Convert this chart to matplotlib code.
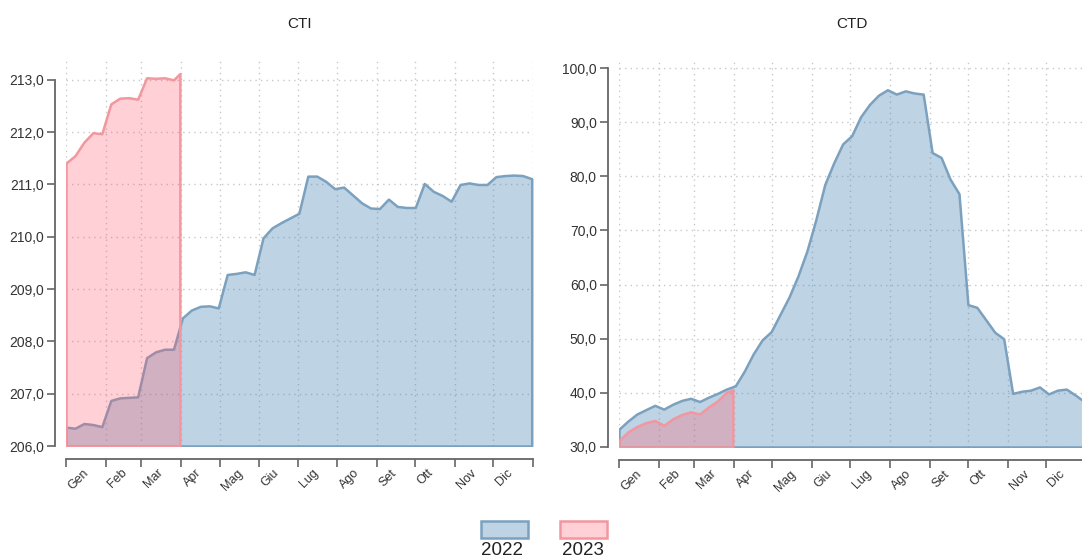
import numpy as np
import pandas as pd
import matplotlib
matplotlib.use('Agg')
import matplotlib.pyplot as plt
from matplotlib.patches import Rectangle
from matplotlib.ticker import FuncFormatter, FixedLocator, FixedFormatter

plt.rcParams['font.family'] = ['Liberation Sans', 'DejaVu Sans']

# ---------------- data ----------------
months = ['Gen', 'Feb', 'Mar', 'Apr', 'Mag', 'Giu', 'Lug', 'Ago', 'Set', 'Ott', 'Nov', 'Dic']
series_labels = ['2022', '2023']
panel_titles = ['CTI', 'CTD']

dates_2022 = pd.date_range('2022-01-01', '2022-12-31', freq='7D')
dates_2023 = pd.DatetimeIndex(list(pd.date_range('2023-01-01', '2023-03-26', freq='7D'))
                              + [pd.Timestamp('2023-03-31')])

cti_2022 = [206.36, 206.34, 206.43, 206.41, 206.37, 206.87, 206.92, 206.93, 206.94, 207.69,
            207.80, 207.85, 207.85, 208.45, 208.60, 208.67, 208.68, 208.64, 209.28, 209.30,
            209.33, 209.28, 209.98, 210.17, 210.27, 210.36, 210.45, 211.16, 211.16, 211.06,
            210.92, 210.95, 210.80, 210.65, 210.55, 210.54, 210.72, 210.58, 210.56, 210.56,
            211.02, 210.87, 210.79, 210.68, 211.00, 211.03, 211.00, 211.00, 211.15, 211.17,
            211.18, 211.17, 211.11]
cti_2023 = [211.41, 211.55, 211.81, 211.99, 211.97, 212.54, 212.65, 212.66, 212.63, 213.04,
            213.03, 213.04, 213.00, 213.12]

ctd_2022 = [33.3, 34.8, 36.1, 36.9, 37.7, 37.0, 37.9, 38.6, 39.0, 38.4,
            39.2, 39.9, 40.7, 41.3, 44.0, 47.2, 49.8, 51.3, 54.5, 57.7,
            61.6, 66.2, 72.0, 78.5, 82.5, 86.0, 87.5, 91.0, 93.3, 95.0,
            96.0, 95.2, 95.8, 95.4, 95.2, 84.4, 83.5, 79.5, 76.8, 56.3,
            55.8, 53.5, 51.2, 50.0, 39.9, 40.3, 40.5, 41.1, 39.8, 40.5,
            40.7, 39.6, 38.4]
ctd_2023 = [31.2, 32.8, 33.8, 34.5, 34.9, 34.0, 35.2, 36.0, 36.5, 36.1,
            37.4, 38.5, 40.1, 40.6]

cti_ticks = [206, 207, 208, 209, 210, 211, 212, 213]
ctd_ticks = [30, 40, 50, 60, 70, 80, 90, 100]

# ---------------- styling ----------------
W, H = 1082, 558
fig = plt.figure(figsize=(W / 100, H / 100), dpi=100)

blue_face = (70 / 255, 130 / 255, 180 / 255, 0.35)
blue_edge = '#7ba1be'
pink_face = (1.0, 88 / 255, 105 / 255, 0.28)
pink_edge = '#f2979f'

x22 = (dates_2022 - pd.Timestamp('2022-01-01')).days.values
x23 = (dates_2023 - pd.Timestamp('2023-01-01')).days.values
month_starts = pd.date_range('2022-01-01', periods=13, freq='MS')
tick_x = (month_starts - pd.Timestamp('2022-01-01')).days.values


def px_rect(l, t, r, b):
    return [l / W, 1 - b / H, (r - l) / W, (b - t) / H]


panels = [
    (px_rect(66, 60, 533, 446), cti_2022, cti_2023, cti_ticks, (206, 213.38), 300),
    (px_rect(619, 60, 1085.5, 447), ctd_2022, ctd_2023, ctd_ticks, (30, 101.5), 852),
]

fmt = FuncFormatter(lambda v, p: f'{v:.1f}'.replace('.', ','))

for (rect, s22, s23, yt, ylim, tx), title in zip(panels, panel_titles):
    ax = fig.add_axes(rect)
    base = ylim[0]
    ax.fill_between(x22, s22, base, facecolor=blue_face, edgecolor=blue_edge,
                    linewidth=1.8, zorder=2)
    ax.fill_between(x23, s23, base, facecolor=pink_face, edgecolor=pink_edge,
                    linewidth=1.8, zorder=3)
    ax.set_xlim(0, 365)
    ax.set_ylim(*ylim)
    ax.yaxis.set_major_locator(FixedLocator(yt))
    ax.yaxis.set_major_formatter(fmt)
    ax.xaxis.set_major_locator(FixedLocator(tick_x))
    ax.xaxis.set_major_formatter(FixedFormatter(months + ['']))
    ax.grid(True, linestyle=(0, (1, 3)), color='#c8c8c8', linewidth=1.0, zorder=1)
    ax.set_axisbelow(True)
    for s in ('top', 'right'):
        ax.spines[s].set_visible(False)
    ax.spines['left'].set_position(('outward', 8))
    ax.spines['bottom'].set_position(('outward', 9))
    ax.spines['left'].set_bounds(yt[0], yt[-1])
    ax.spines['bottom'].set_bounds(0, 365)
    for s in ('left', 'bottom'):
        ax.spines[s].set_color('#666666')
        ax.spines[s].set_linewidth(1.3)
    ax.tick_params(axis='y', length=6, width=1.2, color='#666666', labelsize=10,
                   labelcolor='#333333', pad=2)
    ax.tick_params(axis='x', length=6, width=1.2, color='#666666', labelsize=9,
                   labelcolor='#333333', pad=0, labelrotation=45)
    for lab in ax.get_xticklabels():
        lab.set_horizontalalignment('left')
        lab.set_verticalalignment('top')
    fig.text(tx / W, 1 - 24 / H, title, ha='center', va='center', fontsize=11,
             color='#222222')

# legend (swatches above labels)
for (l, r, cx), lab, fc, ec in zip([(481, 528, 502), (560, 607, 583)], series_labels,
                                   [blue_face, pink_face], [blue_edge, pink_edge]):
    fig.add_artist(Rectangle((l / W, 1 - 538 / H), (r - l) / W, 17 / H,
                             transform=fig.transFigure, facecolor=fc, edgecolor=ec,
                             linewidth=1.8))
    fig.text(cx / W, 1 - 542 / H, lab, ha='center', va='top', fontsize=13.5,
             color='#222222')

fig.savefig('out.png', dpi=100)
